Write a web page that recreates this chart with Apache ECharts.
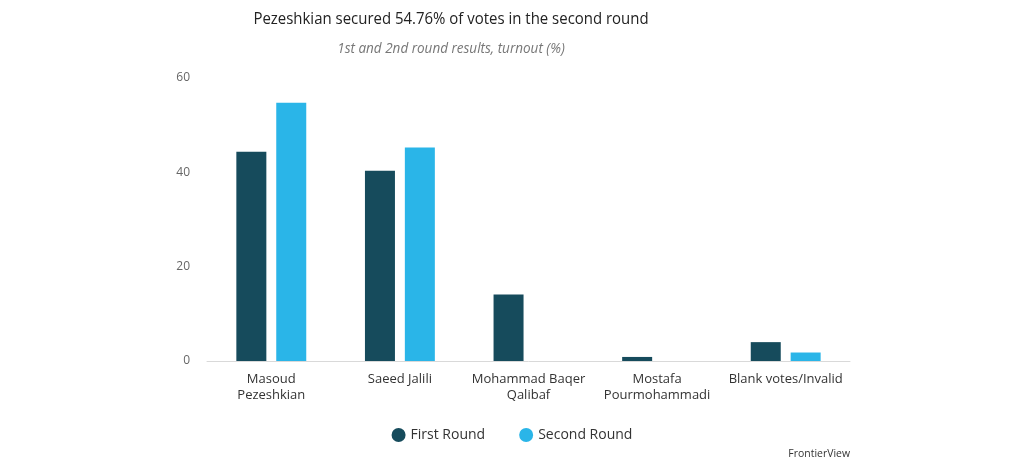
<!DOCTYPE html>
<html>
<head>
<meta charset="utf-8">
<script src="https://cdn.jsdelivr.net/npm/echarts@6/dist/echarts.min.js"></script>
<style>
html,body{margin:0;padding:0;background:#fff;}
#chart{width:1024px;height:465px;}
</style>
</head>
<body>
<div id="chart"></div>
<script>
const categories = ['Masoud\nPezeshkian', 'Saeed Jalili', 'Mohammad Baqer\nQalibaf', 'Mostafa\nPourmohammadi', 'Blank votes/Invalid'];
const firstRound = [44.36, 40.35, 14.1, 0.86, 4.0];
const secondRound = [54.76, 45.24, null, null, 1.8];
const yTicks = [0, 20, 40, 60];
const titleText = 'Pezeshkian secured 54.76% of votes in the second round';
const subtitleText = '1st and 2nd round results, turnout (%)';
const sourceText = 'FrontierView';

const chart = echarts.init(document.getElementById('chart'));
const font = '"Open Sans", "Noto Sans", sans-serif';
chart.setOption({
  animation: false,
  backgroundColor: '#ffffff',
  textStyle: {fontFamily: font},
  graphic: [
    {type: 'text', x: 451, y: 19, scaleX: 0.88, scaleY: 1,
     style: {text: titleText, font: '17px "Open Sans", sans-serif', fill: '#222',
             textAlign: 'center', textVerticalAlign: 'middle'}},
    {type: 'text', x: 451, y: 49, scaleX: 0.9, scaleY: 1,
     style: {text: subtitleText, font: 'italic 15px "Open Sans", sans-serif', fill: '#777',
             textAlign: 'center', textVerticalAlign: 'middle'}},
    {type: 'text', x: 850, y: 454, scaleX: 0.95, scaleY: 1,
     style: {text: sourceText, font: '11px "Open Sans", sans-serif', fill: '#333',
             textAlign: 'right', textVerticalAlign: 'middle'}}
  ],
  legend: {
    data: ['First Round', 'Second Round'],
    left: 'center', top: 423,
    icon: 'circle', itemWidth: 14, itemHeight: 14, itemGap: 34,
    textStyle: {fontFamily: font, fontSize: 14, color: '#333'}
  },
  grid: {left: 207, right: 174, top: 78, bottom: 104, containLabel: false},
  xAxis: {
    type: 'category',
    data: categories,
    axisLine: {lineStyle: {color: '#d9d9d9', width: 1}},
    axisTick: {show: false},
    axisLabel: {fontFamily: font, fontSize: 13, color: '#333', margin: 10, lineHeight: 16, interval: 0}
  },
  yAxis: {
    type: 'value',
    min: yTicks[0], max: yTicks[yTicks.length - 1], interval: 20,
    axisLine: {show: false},
    axisTick: {show: false},
    splitLine: {show: false},
    axisLabel: {fontFamily: font, fontSize: 12, color: '#666', margin: 17}
  },
  series: [
    {name: 'First Round', type: 'bar', data: firstRound, barWidth: 30, barGap: '33%',
     itemStyle: {color: '#164b5c'}},
    {name: 'Second Round', type: 'bar', data: secondRound, barWidth: 30,
     itemStyle: {color: '#2ab5e8'}}
  ]
});
</script>
</body>
</html>
